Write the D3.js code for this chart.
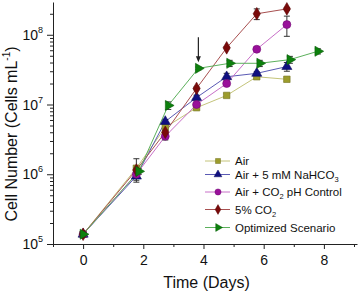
<!DOCTYPE html>
<html>
<head>
<meta charset="utf-8">
<script src="https://cdn.jsdelivr.net/npm/d3@7"></script>
<style>
  body { margin: 0; background: #fff; }
  svg { font-family: "Liberation Sans", Arial, sans-serif; }
</style>
</head>
<body>
<div id="graph"></div>
<script>
// days, 4 treatments share one sampling grid, optimized one is offset a bit
var days = [0, 1.77, 2.73, 3.77, 4.77, 5.77, 6.77]
var daysOpt = [0, 1.85, 2.83, 3.83, 4.87, 5.87, 6.87, 7.8]

var air      = [1.38e5, 1.22e6, 4.7e6, 9.0e6, 1.35e7, 2.5e7, 2.3e7]
var airErr   = [5e3, 4.5e5, 4e5, 5e5, 8e5, 2e6, 1.5e6]
var bicarb   = [1.38e5, 9.4e5, 5.7e6, 1.26e7, 2.5e7, 2.8e7, 3.5e7]
var bicarbErr= [5e3, 1.2e5, 4e5, 1e6, 3e6, 1.5e6, 5e6]
var phCtrl   = [1.38e5, 1.0e6, 3.5e6, 1.0e7, 2.0e7, 6.2e7, 1.4e8]
var phCtrlErr= [5e3, 1e5, 4e5, 6e5, 1e6, 2e6, 4.5e7]
var co2      = [1.38e5, 1.15e6, 4.0e6, 1.7e7, 6.5e7, 2.0e8, 2.35e8]
var co2Err   = [5e3, 1e5, 3e5, 8e5, 2e6, 3.5e7, 1e7]
var opt      = [1.38e5, 1.1e6, 9.7e6, 3.3e7, 3.9e7, 3.9e7, 4.4e7, 5.8e7]
var optErr   = [5e3, 1e5, 1.2e6, 1.5e6, 4e6, 4e6, 5e6, 5e6]

var names = ['Air', 'Air + 5 mM NaHCO|3', 'Air + CO|2 pH Control', '5% CO|2', 'Optimized Scenario']
var xTicks = [0, 2, 4, 6, 8]
var yTicks = [1e5, 1e6, 1e7, 1e8]

var series = [
  {name: names[0], x: days, y: air, e: airErr, sym: d3.symbolSquare, size: 42, fill: '#9c9c2c', line: '#c4c47a'},
  {name: names[1], x: days, y: bicarb, e: bicarbErr, sym: d3.symbolTriangle, size: 44, fill: '#101080', line: '#5a5ab4'},
  {name: names[2], x: days, y: phCtrl, e: phCtrlErr, sym: d3.symbolCircle, size: 50, fill: '#99109a', line: '#c870c8'},
  {name: names[3], x: days, y: co2, e: co2Err, sym: d3.symbolDiamond, size: 46, fill: '#7a0a0a', line: '#a85050'},
  {name: names[4], x: daysOpt, y: opt, e: optErr, sym: 'right', size: 44, fill: '#0d800d', line: '#5cb05c'}
]

var width = 358, height = 292
var margin = {top: 2, left: 53, right: 1, bottom: 48}

var svg = d3.select('#graph').append('svg')
  .attr('width', width).attr('height', height)

var x = d3.scaleLinear().domain([-1, 9.1]).range([margin.left, width - margin.right])
var y = d3.scaleLog().domain([1e5, 2.95e8]).range([height - margin.bottom, margin.top])

// axes
var minor = []
for (var p = 5; p <= 8; p++) for (var k = 2; k <= 9; k++) if (k*Math.pow(10, p) < 2.95e8) minor.push(k*Math.pow(10, p))

var yAxis = svg.append('g').attr('transform', 'translate(' + margin.left + ',0)')
yAxis.call(d3.axisLeft(y).tickValues(minor).tickSize(3).tickFormat(''))
yAxis.call(g => g.select('.domain').remove())
yAxis.append('g').call(d3.axisLeft(y).tickValues(yTicks).tickSize(6).tickSizeOuter(0).tickFormat(''))

yAxis.selectAll('line').attr('stroke', '#222')
yAxis.selectAll('.domain').attr('stroke', '#222')

var yLab = yAxis.selectAll('text.ylab').data(yTicks).enter().append('text')
  .attr('class', 'ylab')
  .attr('x', -10).attr('y', d => y(d) + 5)
  .attr('text-anchor', 'end').attr('font-size', 14).attr('fill', '#111')
yLab.append('tspan').text('10')
yLab.append('tspan').text(d => Math.round(Math.log10(d)))
  .attr('font-size', 9).attr('dy', -7)

var xAxis = svg.append('g').attr('transform', 'translate(0,' + (height - margin.bottom) + ')')
xAxis.call(d3.axisBottom(x).tickValues([-1, 1, 3, 5, 7, 9]).tickSize(3).tickFormat(''))
xAxis.call(g => g.select('.domain').remove())
xAxis.append('g').call(d3.axisBottom(x).tickValues(xTicks).tickSize(5).tickSizeOuter(0).tickPadding(6))
xAxis.selectAll('line').attr('stroke', '#222')
xAxis.selectAll('.domain').attr('stroke', '#222')
xAxis.selectAll('text').attr('font-size', 14).attr('fill', '#111').attr('font-family', null)

// titles
svg.append('text')
  .attr('x', (margin.left + width) / 2 + 1).attr('y', 288)
  .attr('text-anchor', 'middle').attr('font-size', 16).attr('fill', '#111')
  .text('Time (Days)')

var yt = svg.append('text')
  .attr('transform', 'translate(17,134) rotate(-90)')
  .attr('text-anchor', 'middle').attr('font-size', 16).attr('fill', '#111')
yt.append('tspan').text('Cell Number (Cells mL')
yt.append('tspan').text('-1').attr('font-size', 10).attr('dy', -7)
yt.append('tspan').text(')').attr('dy', 7)

function symPath(s, scale) {
  var sz = s.size * (scale || 1)
  if (s.sym == 'right') return d3.symbol(d3.symbolTriangle, sz)()
  return d3.symbol(s.sym, sz)()
}
function symRot(s) { return s.sym == 'right' ? ' rotate(90)' : '' }

var line = d3.line().x(d => x(d[0])).y(d => y(d[1]))

var plot = svg.append('g')

series.forEach(s => {
  var pts = s.x.map((t, i) => [t, s.y[i], s.e[i]])
  var g = plot.append('g')

  g.append('path').datum(pts)
    .attr('d', line).attr('fill', 'none').attr('stroke', s.line).attr('stroke-width', 1)

  var eb = g.selectAll('g.eb').data(pts).enter().append('g').attr('class', 'eb')
  eb.append('line')
    .attr('x1', d => x(d[0])).attr('x2', d => x(d[0]))
    .attr('y1', d => y(d[1] + d[2])).attr('y2', d => y(Math.max(d[1] - d[2], 1e5)))
    .attr('stroke', '#333').attr('stroke-width', 1)
  ;[1, -1].forEach(sg => {
    eb.append('line')
      .attr('x1', d => x(d[0]) - 3).attr('x2', d => x(d[0]) + 3)
      .attr('y1', d => y(sg > 0 ? d[1] + d[2] : d[1] - d[2]))
      .attr('y2', d => y(sg > 0 ? d[1] + d[2] : d[1] - d[2]))
      .attr('stroke', '#333').attr('stroke-width', 1)
  })
})

series.forEach(s => {
  plot.append('g').selectAll('path').data(s.x.map((t, i) => [t, s.y[i]])).enter().append('path')
    .attr('d', symPath(s))
    .attr('transform', d => 'translate(' + x(d[0]) + ',' + y(d[1]) + ')' + symRot(s))
    .attr('fill', s.fill).attr('stroke', d3.color(s.fill).darker(0.8)).attr('stroke-width', 0.6)
})

// arrow marking the switch in the optimized scenario
var ax = x(daysOpt[3]), ay = y(opt[3]) - 6
svg.append('line')
  .attr('x1', ax).attr('x2', ax).attr('y1', ay - 25).attr('y2', ay - 4)
  .attr('stroke', '#222').attr('stroke-width', 1.2)
svg.append('path')
  .attr('d', 'M' + (ax - 2.5) + ',' + (ay - 6) + 'L' + (ax + 2.5) + ',' + (ay - 6) + 'L' + ax + ',' + ay + 'Z')
  .attr('fill', '#222')

// legend
var legY = [161, 174.5, 192, 209.5, 227.5]
var leg = svg.append('g').selectAll('g').data(series).enter().append('g')
  .attr('transform', (d, i) => 'translate(205,' + legY[i] + ')')
leg.append('line').attr('x1', 0).attr('x2', 25).attr('stroke', d => d.line)
leg.append('path')
  .attr('d', d => symPath(d, 0.6))
  .attr('transform', d => 'translate(13,0)' + symRot(d))
  .attr('fill', d => d.fill).attr('stroke', d => d3.color(d.fill).darker(0.8)).attr('stroke-width', 0.5)

var lt = leg.append('text').attr('x', 30).attr('y', 4).attr('font-size', 11.5).attr('fill', '#111')
lt.each(function(d) {
  var parts = d.name.split('|')
  var t = d3.select(this)
  t.append('tspan').text(parts[0])
  if (parts.length > 1) {
    var sub = parts[1]
    t.append('tspan').text(sub[0]).attr('font-size', 7.5).attr('dy', 3)
    if (sub.length > 1) t.append('tspan').text(sub.slice(1)).attr('dy', -3)
  }
})
</script>
</body>
</html>
